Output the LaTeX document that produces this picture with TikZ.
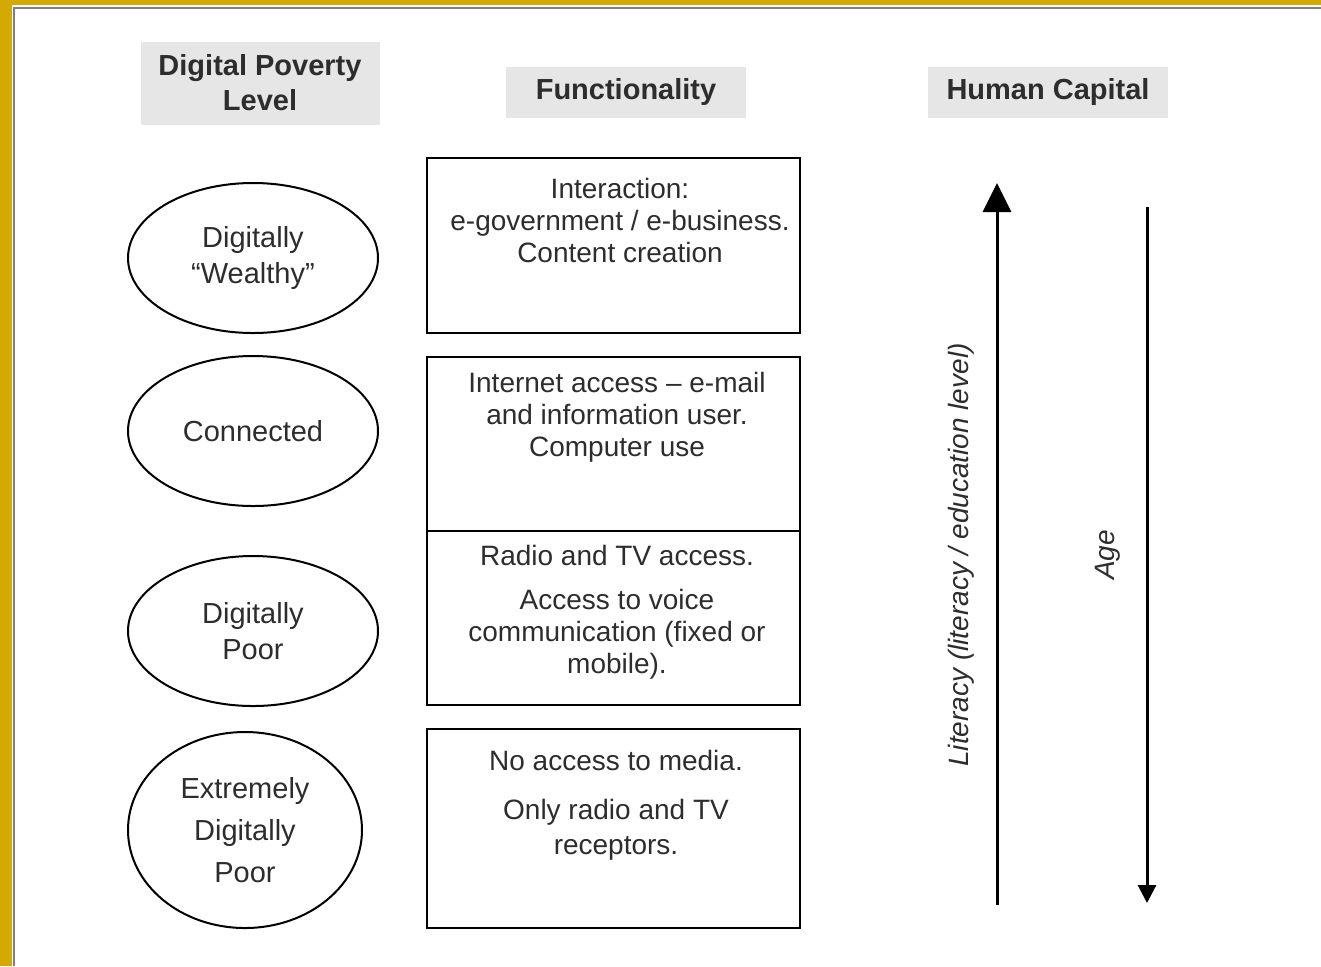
\documentclass[tikz,border=0pt]{standalone}
\usepackage{fontspec}
\setmainfont{Liberation Sans}
\usepackage{tikz}
\usetikzlibrary{shapes.geometric,arrows.meta}
\definecolor{gold}{RGB}{212,170,0}
\definecolor{hdr}{RGB}{230,230,230}
\definecolor{txt}{RGB}{45,45,45}

\begin{document}
\begin{tikzpicture}[x = 0.5pt, y = -0.5pt, line width = 1pt,
    head/.style = {fill = hdr, text = txt, align = center, inner sep = 0pt,
        font = \fontsize{14.5}{17.5}\selectfont\bfseries},
    level/.style = {ellipse, draw, text = txt, align = center, inner sep = 0pt,
        font = \fontsize{14.5}{18}\selectfont},
    func/.style = {rectangle, draw, line width = 1.2pt, minimum width = 186.5pt, inner sep = 0pt},
    info/.style = {text = txt, align = center, inner sep = 0pt,
        font = \fontsize{14}{16}\selectfont}]
% frame
\useasboundingbox (0,0) rectangle (1321,966);
\fill[white] (0,0) rectangle (1321,966);
\fill[gold] (0,0) rectangle (12,966);
\fill[gold] (0,0) rectangle (1321,5);
\draw[gray, line width = 1.2pt] (14,966) -- (14,8) -- (1321,8);

% headers
\draw (260,83) node[head, minimum width = 119.5pt, minimum height = 41.5pt](h1){Digital Poverty\\Level}
    (626,92) node[head, minimum width = 120pt, minimum height = 25.5pt](h2){Functionality}
    (1048,92) node[head, minimum width = 120pt, minimum height = 25.5pt](h3){Human Capital};

% poverty levels
\draw (253,258) node[level, minimum width = 125pt, minimum height = 75pt](e1){Digitally\\``Wealthy''}
    (253,431) node[level, minimum width = 125pt, minimum height = 75pt](e2){Connected}
    (253,631) node[level, minimum width = 125pt, minimum height = 75pt](e3){Digitally\\Poor}
    (245,830) node[level, minimum width = 117pt, minimum height = 98pt,
        font = \fontsize{14.5}{21}\selectfont](e4){Extremely\\Digitally\\Poor};

% functionality boxes
\draw (613.5,245.5) node[func, minimum height = 87.5pt](b1){}
    (613.5,444) node[func, minimum height = 87pt](b2){}
    (613.5,618) node[func, minimum height = 87pt](b3){}
    (613.5,828.5) node[func, minimum height = 99.5pt](b4){};
\draw (620,220) node[info](t1){Interaction:\\e-government / e-business.\\Content creation}
    (617,417) node[info](t2){Internet access -- e-mail\\and information user.\\Computer use}
    (617,612) node[info](t3){Radio and TV access.\\[6pt]Access to voice\\communication (fixed or\\mobile).}
    (616,805) node[info, font = \fontsize{14}{17.5}\selectfont](t4){No access to media.\\[7pt]Only radio and TV\\receptors.};

% human capital
\coordinate (u0) at (997,905);
\coordinate (u1) at (997,183);
\coordinate (d0) at (1147,207);
\coordinate (d1) at (1147,903);
\draw [-{Triangle[length = 14.5pt, width = 14pt]}, line width = 1.5pt] (u0) -- (u1);
\draw [-{Triangle[length = 9pt, width = 9pt]}, line width = 1.5pt] (d0) -- (d1);
\draw (961,555) node[info, rotate = 90, font = \fontsize{14}{16}\selectfont\itshape](lit){Literacy (literacy / education level)}
    (1108,555) node[info, rotate = 90, font = \fontsize{14}{16}\selectfont\itshape](age){Age};
\end{tikzpicture}
\end{document}
